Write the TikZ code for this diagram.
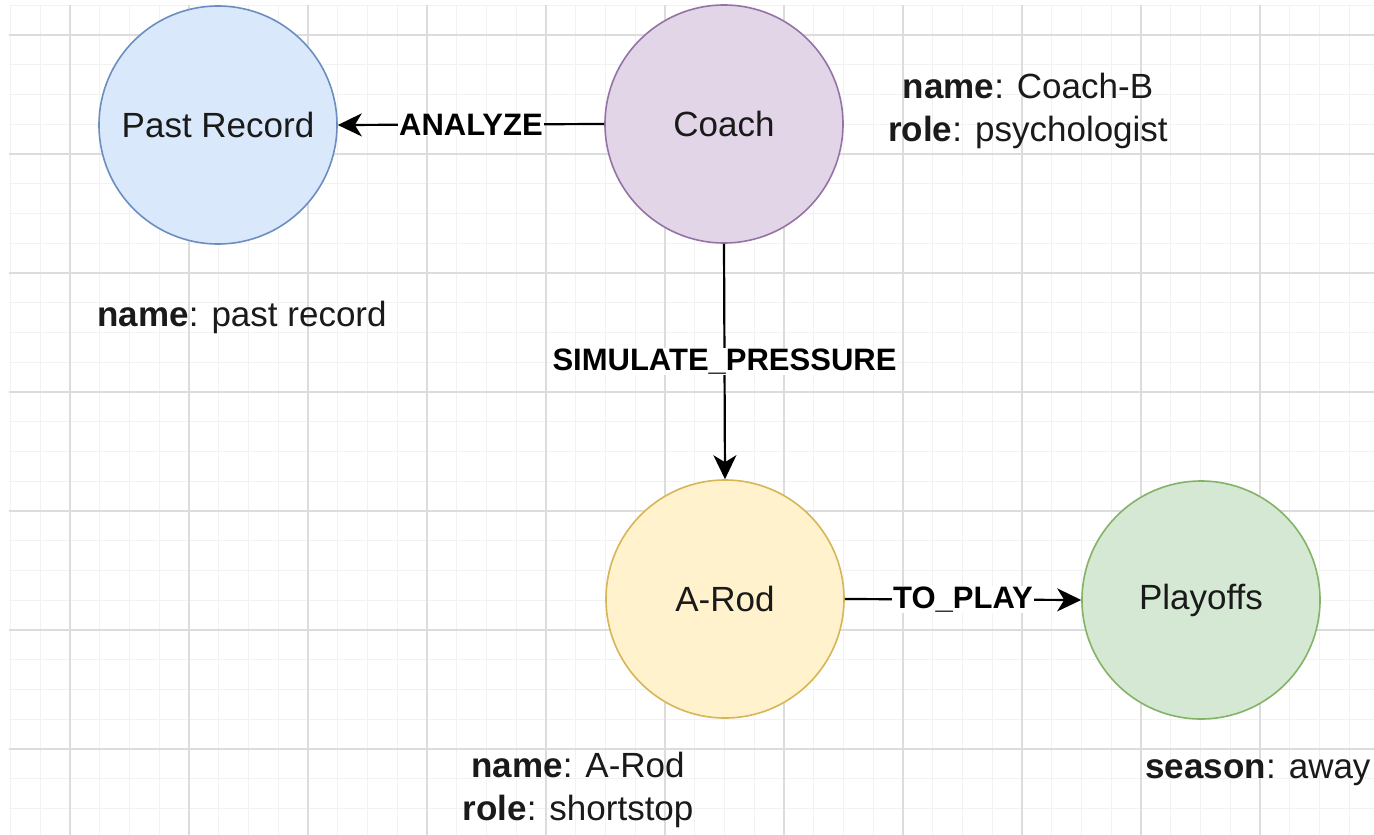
\documentclass[tikz,border=0pt]{standalone}
\usepackage{fontspec}
\setmainfont{Liberation Sans}
\usetikzlibrary{arrows.meta}
\definecolor{blueF}{HTML}{DAE8FC}\definecolor{blueS}{HTML}{6C8EBF}
\definecolor{purpF}{HTML}{E1D5E7}\definecolor{purpS}{HTML}{9673A6}
\definecolor{yelF}{HTML}{FFF2CC}\definecolor{yelS}{HTML}{D6B656}
\definecolor{grnF}{HTML}{D5E8D4}\definecolor{grnS}{HTML}{82B366}
\definecolor{majorgrid}{HTML}{DCDCDC}
\definecolor{minorgrid}{HTML}{F2F2F2}
\definecolor{txt}{HTML}{1A1A1A}
\begin{document}
\begin{tikzpicture}[x=1pt,y=-1pt,
  circ/.style={circle, draw, line width=1.6pt, minimum size=238pt, inner sep=0pt,
    font=\fontsize{35}{42}\selectfont, text=txt},
  edge/.style={line width=2.2pt, -{Stealth[length=24pt,width=23pt,inset=7pt]}},
  elabel/.style={fill=white, inner sep=1pt, font=\fontsize{31}{37}\selectfont\bfseries},
  attr/.style={align=center, font=\fontsize{35}{43}\selectfont, text=txt, inner sep=0pt},
  gmin/.style={draw=minorgrid, line width=1pt},
  gmaj/.style={draw=majorgrid, line width=1.4pt}]
\fill[white] (0,0) rectangle (1374,835);
\useasboundingbox (0,0) rectangle (1374,835);
% grid
\foreach \k in {-2,...,43} { \draw[gmin] ({70+29.75*\k},5) -- ({70+29.75*\k},835); }
\foreach \k in {-1,...,26} { \draw[gmin] (9,{35+29.75*\k}) -- (1374,{35+29.75*\k}); }
\foreach \k in {0,...,10} { \draw[gmaj] ({70+119*\k},5) -- ({70+119*\k},835); }
\foreach \k in {0,...,6} { \draw[gmaj] (9,{35+119*\k}) -- (1374,{35+119*\k}); }
% nodes
\node[circ, fill=blueF, draw=blueS] (past) at (218,125) {Past Record};
\node[circ, fill=purpF, draw=purpS] (coach) at (724,124) {Coach};
\node[circ, fill=yelF, draw=yelS] (arod) at (725,599) {A-Rod};
\node[circ, fill=grnF, draw=grnS] (play) at (1201,600) {Playoffs};
% attributes
\node[attr] (pastattr) at (242,317) {\textbf{name}: past record};
\node[attr] (coachattr) at (1028,111) {\textbf{name}: Coach-B\\\textbf{role}: psychologist};
\node[attr] (arodattr) at (578,790) {\textbf{name}: A-Rod\\\textbf{role}: shortstop};
\node[attr] (playattr) at (1258,773) {\textbf{season}: away};
% edges
\draw[edge] (coach.west) -- node[elabel] {ANALYZE} (past.east);
\draw[edge] (coach.south) -- node[elabel] {SIMULATE\_PRESSURE} (arod.north);
\draw[edge] (arod.east) -- node[elabel] {TO\_PLAY} (play.west);
\end{tikzpicture}
\end{document}
